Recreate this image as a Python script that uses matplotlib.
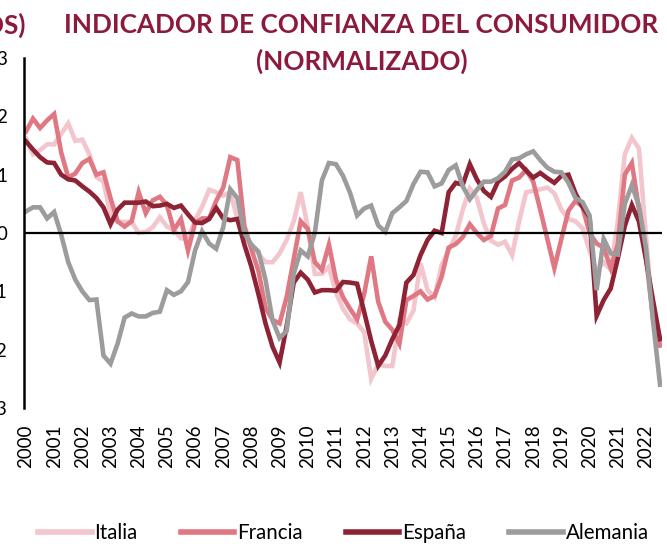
import numpy as np
import matplotlib
matplotlib.use("Agg")
import matplotlib.pyplot as plt

# quarterly data, 2000Q1 .. 2022Q3 (normalised, std devs)
years = [str(y) for y in range(2000, 2023)]

italia = [1.62, 1.35, 1.42, 1.52, 1.52, 1.70, 1.88, 1.58, 1.60, 1.35,
          0.96, 0.88, 0.32, 0.19, 0.19, 0.19, 0.00, 0.02, 0.10, 0.27,
          0.11, 0.05, -0.09, -0.10, 0.22, 0.45, 0.74, 0.70, 0.64, 0.70,
          0.25, -0.08, -0.20, -0.36, -0.50, -0.50, -0.35, -0.12, 0.20, 0.70,
          0.10, -0.70, -0.70, -0.58, -1.02, -1.30, -1.48, -1.55, -1.70, -2.50,
          -2.25, -2.28, -2.28, -1.50, -1.55, -1.33, -0.52, -0.98, -1.10, -0.55,
          -0.30, -0.05, 0.40, 0.76, 0.60, 0.16, -0.13, -0.20, -0.15, -0.38,
          0.20, 0.70, 0.72, 0.75, 0.78, 0.68, 0.40, 0.24, 0.20, 0.08,
          -0.30, -0.65, -0.50, -0.63, 0.20, 1.35, 1.63, 1.45, -0.05, -1.50,
          -1.88]

francia = [1.74, 1.96, 1.80, 1.93, 2.04, 1.38, 0.95, 1.02, 1.20, 1.27,
           1.00, 1.04, 0.60, 0.20, 0.11, 0.20, 0.70, 0.34, 0.56, 0.62,
           0.48, 0.05, 0.24, -0.30, 0.17, 0.25, 0.25, 0.55, 0.78, 1.30,
           1.25, 0.12, -0.28, -0.65, -1.28, -1.49, -1.55, -1.10, -0.45, 0.20,
           0.07, -0.50, -0.63, -0.20, -0.80, -1.10, -1.30, -1.48, -1.05, -0.40,
           -1.18, -1.52, -1.66, -1.90, -1.15, -1.08, -1.00, -1.14, -1.08, -0.75,
           -0.25, -0.19, -0.07, 0.15, 0.00, -0.12, -0.05, 0.42, 0.48, 0.90,
           0.95, 1.08, 0.88, 0.40, -0.10, -0.60, -0.10, 0.38, 0.55, 0.45,
           0.00, -0.18, -0.25, -0.60, -0.20, 1.00, 1.20, 0.42, -0.40, -1.45,
           -1.93]

espana = [1.57, 1.43, 1.30, 1.21, 1.20, 1.00, 0.92, 0.90, 0.80, 0.71,
          0.60, 0.44, 0.15, 0.40, 0.52, 0.52, 0.52, 0.54, 0.46, 0.47,
          0.50, 0.43, 0.47, 0.32, 0.18, 0.17, 0.24, 0.43, 0.25, 0.22,
          0.24, -0.20, -0.58, -1.05, -1.55, -1.95, -2.22, -1.60, -0.85, -0.68,
          -0.80, -1.02, -0.98, -0.98, -0.99, -0.84, -0.85, -0.87, -1.35, -1.85,
          -2.28, -2.10, -1.82, -1.58, -0.85, -0.72, -0.38, -0.12, 0.04, 0.00,
          0.70, 0.86, 0.83, 1.18, 0.92, 0.72, 0.62, 0.88, 0.97, 1.10,
          1.20, 1.07, 0.95, 1.03, 0.94, 0.86, 0.98, 1.00, 0.68, 0.45,
          0.27, -1.42, -1.15, -0.95, -0.44, 0.12, 0.48, 0.20, -0.45, -1.15,
          -1.82]

alemania = [0.37, 0.44, 0.44, 0.25, 0.36, -0.03, -0.50, -0.80, -1.00, -1.15,
            -1.14, -2.10, -2.24, -1.90, -1.45, -1.38, -1.43, -1.43, -1.37, -1.35,
            -0.98, -1.06, -1.00, -0.84, -0.30, 0.03, -0.18, -0.27, 0.10, 0.75,
            0.60, 0.00, -0.20, -0.32, -0.80, -1.50, -1.80, -1.68, -0.70, -0.30,
            -0.40, 0.00, 0.90, 1.20, 1.18, 0.98, 0.69, 0.30, 0.42, 0.47,
            0.13, 0.02, 0.34, 0.44, 0.55, 0.84, 1.05, 1.04, 0.80, 0.85,
            1.08, 1.16, 0.80, 0.58, 0.74, 0.88, 0.88, 0.94, 1.05, 1.26,
            1.28, 1.35, 1.40, 1.25, 1.12, 1.05, 1.04, 0.86, 0.60, 0.53,
            0.30, -0.98, -0.10, -0.35, -0.37, 0.50, 0.82, 0.47, -0.25, -1.50,
            -2.60]

series = [("Italia", italia, "#F3C5CC"),
          ("Francia", francia, "#E07883"),
          ("España", espana, "#8E2335"),
          ("Alemania", alemania, "#9C9C9C")]

title_color = "#8C1A3C"
plt.rcParams['font.family'] = ['Lato', 'DejaVu Sans']

fig = plt.figure(figsize=(6.67, 5.44), dpi=100)
ax = fig.add_axes([24/667, 1 - 408/544, (662 - 24)/667, 350/544])

t = np.arange(len(italia)) / 4
for name, vals, col in series:
    ax.plot(t, vals, color=col, lw=3.3, label=name, solid_joinstyle='miter')

ax.axhline(0, color='black', lw=1.6, zorder=5)
ax.set_ylim(-3, 3)
ax.set_xlim(-0.07, 22.57)
ax.set_yticks(range(-3, 4))
ax.set_xticks(range(len(years)))
ax.set_xticklabels(years, rotation=90)
ax.tick_params(axis='x', length=0, pad=12, labelsize=13.5)
ax.tick_params(axis='y', length=0, pad=12, labelsize=13.5)
for s in ['top', 'right', 'bottom']:
    ax.spines[s].set_visible(False)
ax.spines['left'].set_linewidth(1.8)

fig.text(0.542, 1 - 25/544, "INDICADOR DE CONFIANZA DEL CONSUMIDOR",
         ha='center', va='center', fontsize=18.8, fontweight='bold', color=title_color)
fig.text(0.542, 1 - 61/544, "(NORMALIZADO)",
         ha='center', va='center', fontsize=18.8, fontweight='bold', color=title_color)
fig.text(25/667, 1 - 25/544, "(DS)", ha='right', va='center',
         fontsize=18.8, fontweight='bold', color=title_color)

leg = fig.legend(loc='center', bbox_to_anchor=(0.515, 1 - 533/544), ncol=4, frameon=False,
                 fontsize=14.8, handlelength=2.6, handletextpad=0.14, columnspacing=2.1,
                 borderaxespad=0)
for h in leg.get_lines():
    h.set_linewidth(4)

fig.savefig("out.png", dpi=100)
